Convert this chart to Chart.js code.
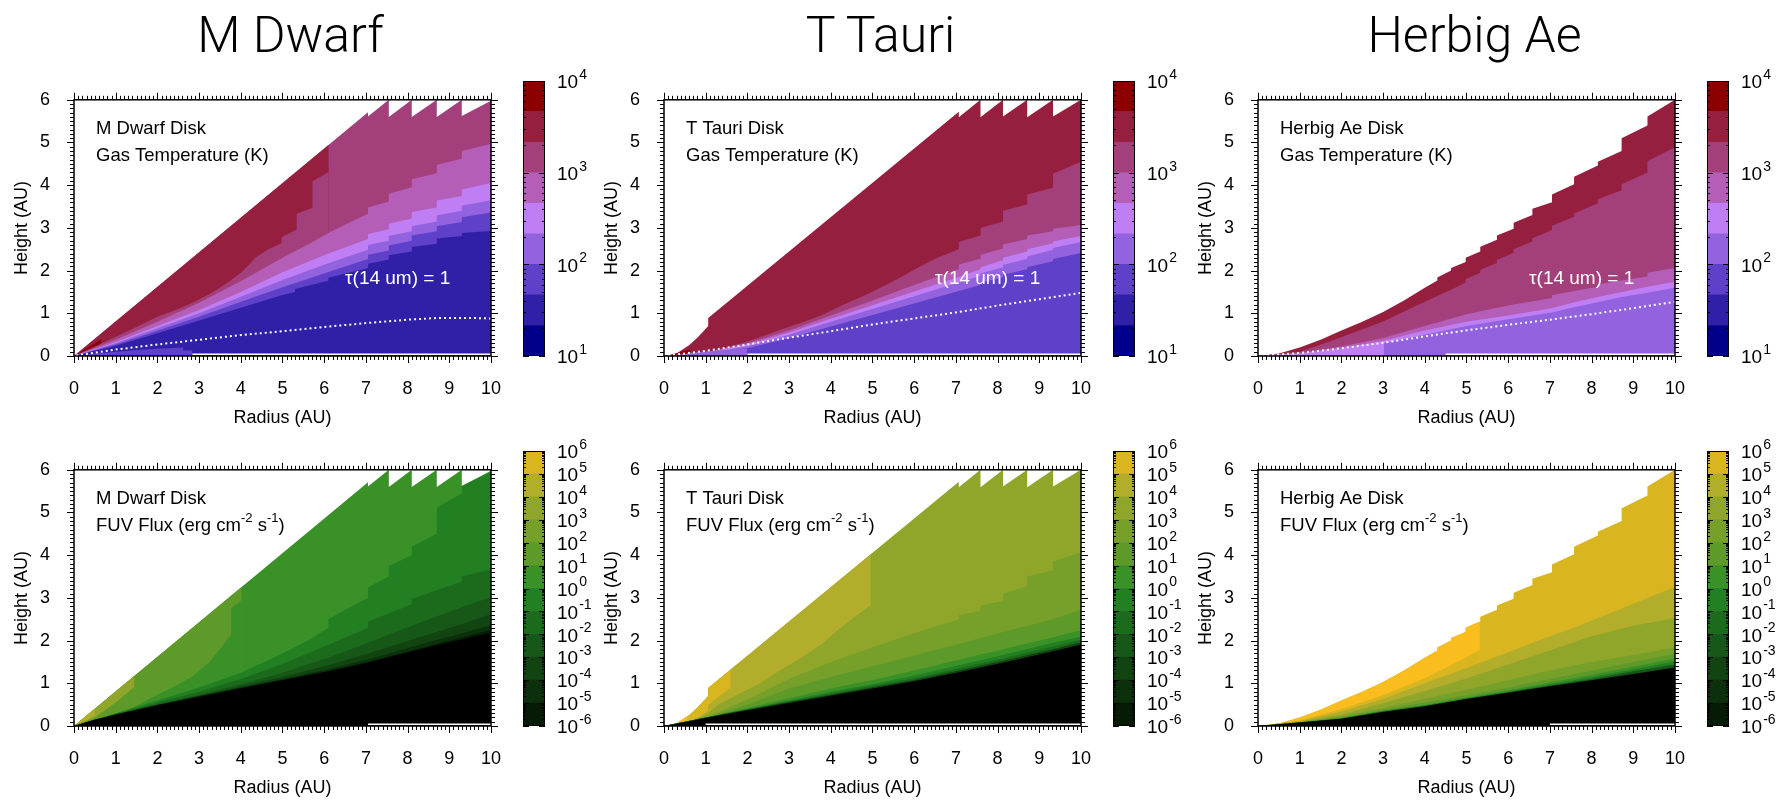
<!DOCTYPE html>
<html>
<head>
<meta charset="utf-8">
<script src="https://cdn.jsdelivr.net/npm/chart.js@4.4.1/dist/chart.umd.min.js"></script>
<style>
  body { margin: 0; background: #fff; }
  #page { position: relative; width: 1776px; height: 801px; overflow: hidden; background: #fff; }
  .head { position: absolute; top: 10px; width: 433px; text-align: center; font-family: Roboto, "Liberation Sans", sans-serif; font-weight: 300; font-size: 50px; line-height: 50px; color: #000; }
  canvas { position: absolute; }
</style>
</head>
<body>
<div id="page">
  <div class="head" style="left:74px">M Dwarf</div>
  <div class="head" style="left:664px">T Tauri</div>
  <div class="head" style="left:1258px">Herbig Ae</div>

  <canvas id="p1" width="523" height="366" style="left:0px;top:65px"></canvas>
  <canvas id="p2" width="523" height="366" style="left:590px;top:65px"></canvas>
  <canvas id="p3" width="523" height="366" style="left:1184px;top:65px"></canvas>
  <canvas id="p4" width="523" height="366" style="left:0px;top:435px"></canvas>
  <canvas id="p5" width="523" height="366" style="left:590px;top:435px"></canvas>
  <canvas id="p6" width="523" height="366" style="left:1184px;top:435px"></canvas>

  <canvas id="c1" width="82" height="311" style="left:521px;top:65px"></canvas>
  <canvas id="c2" width="82" height="311" style="left:1111px;top:65px"></canvas>
  <canvas id="c3" width="82" height="311" style="left:1705px;top:65px"></canvas>
  <canvas id="c4" width="82" height="311" style="left:521px;top:435px"></canvas>
  <canvas id="c5" width="82" height="311" style="left:1111px;top:435px"></canvas>
  <canvas id="c6" width="82" height="311" style="left:1705px;top:435px"></canvas>
</div>

<script>
// colour scales (colorbar edges, bottom to top)
const tempLevels = [10, 21.5, 46.4, 100, 215, 464, 1000, 2150, 4640, 10000];
const tempColors = ['#00008b', '#3020a8', '#5f40c8', '#9262df', '#bf7ef4', '#b45eb8', '#a3407b', '#961f40', '#8b0000'];
const tempTickVals = [10, 100, 1000, 10000];
const tempTickExps = ['1', '2', '3', '4'];

const fuvLevels = [1e-6, 1e-5, 1e-4, 1e-3, 1e-2, 1e-1, 1, 10, 100, 1e3, 1e4, 1e5, 1e6];
const fuvColors = ['#061b06', '#0b300b', '#114411', '#175717', '#1c6b1c', '#228022', '#3a9128', '#5e9a29', '#76a02a', '#90a62a', '#b2ae2b', '#d9b520'];
const fuvAbove = '#fabd1e';
const fuvTickVals = fuvLevels;
const fuvTickExps = ['-6', '-5', '-4', '-3', '-2', '-1', '0', '1', '2', '3', '4', '5', '6'];

const tauLabelPos = [6.5, 1.8];

// ---- M Dwarf disk: [radius, height] in AU ----
const mdSurface = [[0,0],[7.05,5.71],[7.05,5.61],[7.55,6.0],[7.55,5.6],[8.1,6.0],[8.1,5.6],[8.7,6.0],[8.7,5.6],[9.3,6.0],[9.3,5.62],[10,5.98]];
const mdTempRedEdge = 6.11;
const mdTempHot = [[0.05,0.03],[0.66,0.4],[0.66,0.28]];
const mdTempB23 = [[0,0],[0.5,0.22],[1,0.45],[1.5,0.68],[2,0.92],[2.5,1.1],[2.9,1.27],[3.25,1.45],[3.5,1.6],[3.77,1.78],[4.04,1.98],[4.35,2.3],[4.66,2.5],[4.98,2.64],[4.98,2.78],[5.34,2.96],[5.34,3.33],[5.72,3.47],[5.72,4.09],[6.11,4.31]];
const mdTempB34 = [[0,0],[1,0.38],[2,0.8],[3,1.25],[4,1.75],[5,2.3],[5.7,2.66],[6.1,2.88],[6.55,3.1],[7.05,3.33],[7.05,3.48],[7.55,3.62],[7.55,3.8],[8.1,3.95],[8.1,4.14],[8.7,4.28],[8.7,4.48],[9.3,4.62],[9.3,4.8],[10,4.97]];
const mdTempB45 = [[0,0],[1,0.33],[2,0.7],[3,1.08],[4,1.5],[5,1.96],[6.1,2.4],[6.55,2.56],[7.05,2.74],[7.05,2.86],[7.55,2.97],[7.55,3.1],[8.1,3.22],[8.1,3.37],[8.7,3.48],[8.7,3.64],[9.3,3.75],[9.3,3.9],[10,4.05]];
const mdTempB56 = [[0,0],[1,0.3],[2,0.65],[3,1.0],[4,1.39],[5,1.78],[6.1,2.17],[7.05,2.49],[7.05,2.6],[7.55,2.7],[7.55,2.81],[8.1,2.92],[8.1,3.04],[8.7,3.15],[8.7,3.29],[9.3,3.4],[9.3,3.52],[10,3.65]];
const mdTempB67 = [[0,0],[1,0.27],[2,0.59],[3,0.92],[4,1.27],[5,1.61],[6.1,1.97],[7.05,2.27],[7.05,2.37],[7.55,2.47],[7.55,2.59],[8.1,2.7],[8.1,2.82],[8.7,2.92],[8.7,3.04],[9.3,3.14],[9.3,3.25],[10,3.36]];
const mdTempB78 = [[0,0],[1,0.24],[2,0.53],[3,0.83],[4,1.13],[5,1.43],[5.3,1.5],[5.3,1.57],[6.1,1.76],[6.1,1.83],[7.05,2.06],[7.05,2.16],[7.55,2.26],[7.55,2.36],[8.1,2.45],[8.1,2.55],[8.7,2.63],[8.7,2.75],[9.3,2.81],[9.3,2.88],[10,2.93]];
const mdTempMid = [[0.1,0],[0.5,0.06],[1,0.1],[1.5,0.14],[2,0.17],[2.62,0.2],[2.62,0.13],[2.84,0.13],[2.84,0]];
const mdTau = [[0.05,0.01],[0.5,0.08],[1,0.15],[2,0.27],[3,0.38],[4,0.49],[5,0.58],[6,0.68],[7,0.77],[8,0.85],[8.7,0.89],[9.5,0.89],[10,0.88]];
const mdFloor = [[2.84,0.04],[10,0.04]];

const mdFuvWedgeEdge = 4.02, mdFuvSliverEdge = 1.45, mdFuvTipEdge = 0.5;
const mdFuvTipLow = [[0,0],[0.25,0.1],[0.5,0.25]];
const mdFuvSliverLow = [[0,0],[0.5,0.2],[1,0.55],[1.45,0.92]];
const mdFuvB21 = [[0,0],[0.5,0.1],[0.95,0.22],[1.45,0.45],[2,0.73],[2.45,0.95],[2.84,1.16],[3.25,1.5],[3.5,1.8],[3.77,2.15],[3.77,2.76],[4.02,2.95]];
const mdFuvB10 = [[0,0],[1,0.3],[2,0.6],[3,0.9],[4,1.25],[5,1.7],[5.7,2.05],[6.1,2.3],[6.1,2.5],[6.55,2.75],[7.05,3.0],[7.05,3.25],[7.55,3.5],[7.55,3.75],[8.1,4.0],[8.1,4.2],[8.7,4.5],[8.7,5.11],[9.3,5.45],[9.3,5.62],[10,5.95]];
const mdFuvB0m1 = [[0,0],[1,0.28],[2,0.55],[3,0.8],[4,1.1],[5,1.45],[6.1,1.9],[7.05,2.3],[7.05,2.45],[8.1,2.85],[8.1,2.98],[9.3,3.38],[9.3,3.5],[10,3.67]];
const mdFuvBm1m2 = [[0,0],[1,0.27],[2,0.51],[3,0.73],[4,0.98],[5,1.25],[6.1,1.6],[7.05,1.95],[8.1,2.35],[9.3,2.78],[10,3.02]];
const mdFuvBm2m3 = [[0,0],[1,0.27],[2,0.5],[3,0.71],[4,0.93],[5,1.15],[6.1,1.42],[7.05,1.7],[8.1,2.02],[9.3,2.38],[10,2.62]];
const mdFuvBm3m4 = [[0,0],[1,0.27],[2,0.49],[3,0.7],[4,0.9],[5,1.1],[6.1,1.33],[7.05,1.56],[8.1,1.85],[9.3,2.17],[10,2.36]];
const mdFuvBm4m5 = [[0,0],[1,0.27],[2,0.49],[3,0.69],[4,0.89],[5,1.08],[6.1,1.29],[7.05,1.5],[8.1,1.76],[9.3,2.07],[10,2.25]];
const mdFuvBlack = [[0,0],[0.5,0.15],[1,0.26],[2,0.48],[3,0.68],[4,0.88],[5,1.07],[6,1.26],[7,1.47],[8,1.72],[9,1.96],[10,2.18]];
const mdFuvFloor = [[7.05,0.04],[10,0.04]];

// ---- T Tauri disk ----
const ttSurface = [[0.05,0],[0.3,0.06],[0.6,0.25],[0.8,0.43],[1.0,0.64],[1.06,0.7],[1.06,0.89],[7.07,5.72],[7.07,5.59],[7.59,6.0],[7.59,5.59],[8.13,6.0],[8.13,5.61],[8.71,6.0],[8.71,5.59],[9.33,6.0],[9.33,5.61],[10,6.0]];
const ttTempHot = [[0.1,0.01],[0.64,0.16],[0.64,0.08]];
const ttTempB23 = [[0,0],[1,0.09],[1.5,0.2],[2,0.34],[2.45,0.49],[2.84,0.63],[3.3,0.78],[3.76,0.95],[4.3,1.2],[4.84,1.43],[5.3,1.65],[5.72,1.87],[6.13,2.09],[6.55,2.3],[7.07,2.5],[7.07,2.67],[7.59,2.82],[7.59,3.0],[8.13,3.15],[8.13,3.4],[8.71,3.55],[8.71,3.78],[9.33,3.94],[9.33,4.27],[10,4.55]];
const ttTempB34 = [[0,0],[1,0.08],[2,0.3],[3,0.6],[4,0.95],[5,1.3],[6,1.66],[7.07,2.04],[7.07,2.14],[7.59,2.28],[7.59,2.37],[8.13,2.52],[8.13,2.61],[8.71,2.74],[8.71,2.82],[9.33,2.92],[9.33,2.98],[10,3.07]];
const ttTempB45 = [[0,0],[1,0.07],[2,0.27],[3,0.55],[4,0.87],[5,1.19],[6,1.51],[7.07,1.85],[7.59,2.03],[7.59,2.08],[8.13,2.24],[8.13,2.3],[8.71,2.45],[8.71,2.5],[9.33,2.64],[9.33,2.68],[10,2.81]];
const ttTempB56 = [[0,0],[1,0.06],[2,0.23],[3,0.5],[4,0.8],[5,1.1],[6,1.4],[7.07,1.72],[7.59,1.88],[7.59,1.93],[8.13,2.08],[8.13,2.13],[8.71,2.28],[8.71,2.33],[9.33,2.49],[9.33,2.53],[10,2.67]];
const ttTempB67 = [[0,0],[1,0.05],[2,0.18],[3,0.42],[4,0.69],[5,0.96],[6,1.23],[7.07,1.52],[7.59,1.66],[7.59,1.71],[8.13,1.85],[8.13,1.9],[8.71,2.03],[8.71,2.08],[9.33,2.22],[9.33,2.27],[10,2.41]];
const ttTempMid = [[0.55,0],[0.55,0.07],[1.06,0.11],[1.5,0.14],[1.99,0.17],[1.99,0]];
const ttTau = [[0.1,0.01],[1,0.12],[2,0.27],[3,0.43],[4,0.58],[5,0.74],[6,0.88],[7,1.02],[8,1.18],[9,1.33],[10,1.48]];
const ttFloor = [[2,0.04],[10,0.04]];

const ttFuvWedgeEdge = 4.96, ttFuvGoldEdge = 1.6, ttFuvTipEdge = 0.56;
const ttFuvGoldLow = [[0.05,0],[0.56,0.05],[1.06,0.35],[1.06,0.5],[1.6,0.9]];
const ttFuvWedgeLow = [[0,0],[0.5,0.04],[1.06,0.3],[1.3,0.5],[1.76,0.74],[2.3,1.0],[2.76,1.29],[3.26,1.58],[3.77,1.91],[4.07,2.17],[4.63,2.6],[4.96,2.82]];
const ttFuvB43 = [[0,0],[1,0.2],[2,0.62],[3,1.1],[4,1.5],[5,1.84],[6,2.17],[7.07,2.5],[7.07,2.6],[7.59,2.7],[7.59,2.82],[8.13,2.93],[8.13,3.1],[8.71,3.28],[8.71,3.5],[9.33,3.65],[9.33,3.85],[10,4.07]];
const ttFuvB32 = [[0,0],[1,0.18],[2,0.5],[3,0.88],[4,1.15],[5,1.4],[6,1.65],[7.07,1.92],[8.13,2.2],[9.33,2.5],[10,2.72]];
const ttFuvB21 = [[0,0],[1,0.2],[2,0.42],[3,0.65],[4,0.88],[5,1.08],[6,1.3],[7.07,1.55],[8.13,1.8],[9.33,2.08],[10,2.24]];
const ttFuvB10 = [[0,0],[1,0.2],[2,0.4],[3,0.6],[4,0.8],[5,0.98],[6,1.18],[7.07,1.42],[8.13,1.66],[9.33,1.95],[10,2.09]];
const ttFuvB0m1 = [[0,0],[1,0.2],[2,0.39],[3,0.58],[4,0.76],[5,0.94],[6,1.12],[7.07,1.35],[8.13,1.58],[9.33,1.86],[10,2.02]];
const ttFuvBm2 = [[0,0],[1,0.2],[2,0.38],[3,0.56],[4,0.73],[5,0.91],[6,1.08],[7.07,1.3],[8.13,1.53],[9.33,1.8],[10,1.96]];
const ttFuvBlack = [[0,0],[0.5,0.09],[1,0.19],[2,0.37],[3,0.54],[4,0.71],[5,0.88],[6,1.05],[7.07,1.26],[8.13,1.48],[9.33,1.75],[10,1.91]];
const ttFuvFloor = [[1,0.04],[10,0.04]];

// ---- Herbig Ae disk ----
const haSurface = [[0,0],[0.5,0.06],[1,0.2],[1.5,0.38],[2,0.6],[2.5,0.8],[3,1.03],[3.5,1.3],[4,1.6],[4.3,1.77],[4.3,1.84],[4.63,2.0],[4.63,2.06],[4.98,2.2],[4.98,2.3],[5.33,2.45],[5.33,2.56],[5.73,2.72],[5.73,2.82],[6.13,2.98],[6.13,3.12],[6.58,3.3],[6.58,3.45],[7.05,3.6],[7.05,3.78],[7.58,4.02],[7.58,4.2],[8.15,4.46],[8.15,4.55],[8.72,4.8],[8.72,5.1],[9.34,5.4],[9.34,5.61],[10,6.0]];
const haTempB23 = [[0,0],[1,0.1],[1.72,0.34],[2.33,0.56],[3,0.81],[3.48,1.03],[4,1.27],[4.63,1.55],[4.98,1.72],[4.98,1.8],[5.33,1.95],[5.33,2.02],[5.73,2.18],[5.73,2.25],[6.13,2.42],[6.13,2.5],[6.58,2.68],[6.58,2.76],[7.05,2.95],[7.05,3.05],[7.58,3.26],[7.58,3.34],[8.15,3.58],[8.15,3.67],[8.72,3.88],[8.72,4.02],[9.34,4.3],[9.34,4.56],[10,4.89]];
const haTempB34 = [[0,0],[1,0.07],[2,0.22],[3,0.42],[4,0.7],[5,0.98],[6,1.18],[7.05,1.36],[7.05,1.42],[7.58,1.52],[8.15,1.62],[8.15,1.68],[8.72,1.77],[9.34,1.86],[9.34,1.95],[10,2.06]];
const haTempB45 = [[0,0],[1,0.06],[2,0.18],[3,0.36],[4,0.6],[5,0.8],[6,0.95],[7.05,1.12],[7.58,1.26],[8.15,1.38],[8.72,1.5],[9.34,1.62],[10,1.74]];
const haTempB56 = [[3.02,0],[3.02,0.3],[4,0.5],[5,0.7],[6,0.86],[7.05,1.02],[7.58,1.14],[8.15,1.26],[8.72,1.38],[9.34,1.48],[10,1.6]];
const haTau = [[0.1,0.01],[1,0.07],[2,0.18],[3,0.31],[4,0.46],[5,0.6],[6,0.73],[7,0.85],[8,0.98],[9,1.12],[10,1.27]];
const haFloor = [[4.5,0.04],[10,0.04]];

const haFuvBrightEdge = 5.32;
const haFuvBright = [[0,0],[1,0.13],[2,0.4],[3,0.72],[4,1.12],[4.63,1.42],[5.32,1.78]];
const haFuvB65 = [[0,0],[1,0.12],[2,0.34],[3,0.64],[4,1.0],[5,1.36],[6,1.73],[7,2.1],[7.58,2.3],[8.15,2.53],[8.72,2.75],[9.34,3.0],[10,3.26]];
const haFuvB54 = [[0,0],[1,0.1],[2,0.27],[3,0.53],[4,0.82],[5,1.11],[6,1.44],[7,1.77],[8,2.1],[9,2.35],[10,2.53]];
const haFuvB43 = [[0,0],[1,0.09],[2,0.23],[3,0.42],[4,0.64],[5,0.85],[6,1.07],[7,1.3],[8,1.5],[9,1.66],[10,1.84]];
const haFuvB32 = [[0,0],[1,0.085],[2,0.2],[3,0.38],[4,0.55],[5,0.72],[6,0.9],[7,1.1],[8,1.3],[9,1.5],[10,1.69]];
const haFuvB21 = [[0,0],[1,0.08],[2,0.19],[3,0.36],[4,0.5],[5,0.67],[6,0.84],[7,1.02],[8,1.2],[9,1.39],[10,1.58]];
const haFuvB10 = [[0,0],[1,0.08],[2,0.18],[3,0.35],[4,0.48],[5,0.65],[6,0.81],[7,0.98],[8,1.15],[9,1.33],[10,1.51]];
const haFuvBm1 = [[0,0],[1,0.08],[2,0.17],[3,0.34],[4,0.47],[5,0.64],[6,0.79],[7,0.95],[8,1.1],[9,1.28],[10,1.44]];
const haFuvBlack = [[0,0],[1,0.08],[2,0.17],[3,0.33],[4,0.46],[5,0.63],[6,0.78],[7,0.93],[8,1.07],[9,1.22],[10,1.37]];
const haFuvFloor = [[7,0.04],[10,0.04]];

Chart.defaults.font.family = '"Liberation Sans", Arial, sans-serif';
Chart.defaults.color = '#000';

// cut a boundary at a given radius (keeps the part inside)
function clipTo(pts, xmax) {
  const out = [];
  for (let i = 0; i < pts.length; i++) {
    const [x, y] = pts[i];
    if (x <= xmax) { out.push([x, y]); continue; }
    const [x0, y0] = pts[i - 1];
    out.push([xmax, y0 + (y - y0) * (xmax - x0) / (x - x0)]);
    break;
  }
  return out;
}

const toXY = pts => pts.map(p => ({ x: p[0], y: p[1] }));

// frame with outward minor/major ticks
const frameTicks = {
  id: 'frameTicks',
  afterDraw(chart) {
    const { ctx, chartArea: a, scales: { x, y } } = chart;
    ctx.save();
    ctx.strokeStyle = '#000';
    ctx.lineWidth = 1;
    ctx.beginPath();
    for (let i = 0; i <= 100; i++) {
      const px = Math.round(x.getPixelForValue(i / 10)) + 0.5;
      const len = i % 10 === 0 ? 7 : 4;
      ctx.moveTo(px, a.bottom); ctx.lineTo(px, a.bottom + len);
      ctx.moveTo(px, a.top); ctx.lineTo(px, a.top - len);
    }
    for (let j = 0; j <= 60; j++) {
      const py = Math.round(y.getPixelForValue(j / 10)) + 0.5;
      const len = j % 10 === 0 ? 7 : 4;
      ctx.moveTo(a.left, py); ctx.lineTo(a.left - len, py);
      ctx.moveTo(a.right, py); ctx.lineTo(a.right + len, py);
    }
    ctx.stroke();
    ctx.lineWidth = 1.5;
    ctx.strokeRect(a.left, a.top, a.right - a.left, a.bottom - a.top);
    ctx.restore();
  }
};

// panel caption + tau label
const panelText = {
  id: 'panelText',
  afterDraw(chart, args, opts) {
    const { ctx, chartArea: a, scales: { x, y } } = chart;
    ctx.save();
    ctx.textBaseline = 'middle';
    ctx.fillStyle = '#000';
    opts.lines.forEach((segs, i) => {
      let px = a.left + 22;
      const py = a.top + 29 + i * 27;
      segs.forEach(([t, sup]) => {
        ctx.font = sup ? '13px "Liberation Sans"' : '18.5px "Liberation Sans"';
        ctx.fillText(t, px, sup ? py - 7 : py);
        px += ctx.measureText(t).width;
      });
    });
    if (opts.tau) {
      ctx.fillStyle = '#fff';
      ctx.font = '19px "Liberation Sans"';
      ctx.fillText('\u03c4(14 um) = 1', x.getPixelForValue(tauLabelPos[0]), y.getPixelForValue(tauLabelPos[1]));
    }
    ctx.restore();
  }
};

function makePanel(id, layers, lines, caption, tau) {
  const datasets = layers.map((l, i) => ({
    data: toXY(l[0]),
    backgroundColor: l[1],
    borderWidth: 0,
    pointRadius: 0,
    fill: 'origin',
    order: -i
  }));
  lines.forEach(l => datasets.push({
    data: toXY(l[0]),
    borderColor: '#fff',
    borderWidth: l[1],
    borderDash: l[2],
    pointRadius: 0,
    fill: false,
    order: -100
  }));
  new Chart(document.getElementById(id), {
    type: 'line',
    data: { datasets },
    options: {
      responsive: false,
      animation: false,
      events: [],
      layout: { padding: { top: 16, right: 16, left: 0, bottom: 0 }, autoPadding: false },
      plugins: { legend: { display: false }, tooltip: { enabled: false }, panelText: { lines: caption, tau } },
      scales: {
        x: {
          type: 'linear', min: 0, max: 10,
          ticks: { stepSize: 1, font: { size: 18 }, color: '#000', padding: 22, maxRotation: 0, autoSkip: false },
          grid: { display: false, drawTicks: false },
          border: { display: false },
          title: { display: true, text: 'Radius (AU)', font: { size: 18 }, color: '#000', padding: { top: 0, bottom: 2 } },
          afterFit: s => { s.height = 75; }
        },
        y: {
          type: 'linear', min: 0, max: 6,
          ticks: { stepSize: 1, font: { size: 18 }, color: '#000', padding: 24 },
          grid: { display: false, drawTicks: false },
          border: { display: false },
          title: { display: true, text: 'Height (AU)', font: { size: 18 }, color: '#000', padding: { top: 11, bottom: 0 } },
          afterFit: s => { s.width = 74; }
        }
      }
    },
    plugins: [frameTicks, panelText]
  });
}

// colorbar decorations: frame, inward log ticks, 10^n labels
const cbarDeco = {
  id: 'cbarDeco',
  afterDraw(chart, args, o) {
    const { ctx, chartArea: a, scales: { y } } = chart;
    ctx.save();
    ctx.strokeStyle = '#000';
    ctx.lineWidth = 1;
    ctx.beginPath();
    const k0 = Math.round(Math.log10(y.min)), k1 = Math.round(Math.log10(y.max));
    for (let k = k0; k < k1; k++) {
      for (let m = 1; m < 10; m++) {
        const py = Math.round(y.getPixelForValue(m * Math.pow(10, k))) + 0.5;
        const len = m === 1 ? 6 : 3;
        ctx.moveTo(a.left, py); ctx.lineTo(a.left + len, py);
        ctx.moveTo(a.right, py); ctx.lineTo(a.right - len, py);
      }
    }
    ctx.stroke();
    ctx.strokeRect(a.left + 0.5, a.top + 0.5, a.right - a.left - 1, a.bottom - a.top - 1);
    ctx.fillStyle = '#000';
    ctx.textBaseline = 'middle';
    o.vals.forEach((v, i) => {
      const py = y.getPixelForValue(v) + 2;
      const px = a.right + 12;
      ctx.font = '19px "Liberation Sans"';
      ctx.fillText('10', px, py);
      const w = ctx.measureText('10').width;
      ctx.font = '14px "Liberation Sans"';
      ctx.fillText(o.exps[i], px + w + 1, py - 8);
    });
    ctx.restore();
  }
};

function makeCbar(id, levels, colors, vals, exps) {
  new Chart(document.getElementById(id), {
    type: 'bar',
    data: {
      labels: [''],
      datasets: colors.map((c, i) => ({
        data: [[levels[i], levels[i + 1]]],
        backgroundColor: c,
        borderWidth: 0,
        barPercentage: 1,
        categoryPercentage: 1,
        grouped: false
      }))
    },
    options: {
      responsive: false,
      animation: false,
      events: [],
      layout: { padding: { top: 16, bottom: 20, left: 2, right: 0 }, autoPadding: false },
      plugins: { legend: { display: false }, tooltip: { enabled: false }, cbarDeco: { vals, exps } },
      scales: {
        x: { display: false },
        y: {
          type: 'logarithmic', position: 'right',
          min: levels[0], max: levels[levels.length - 1],
          ticks: { display: false },
          grid: { display: false, drawTicks: false },
          border: { display: false },
          afterFit: s => { s.width = 58; }
        }
      }
    },
    plugins: [cbarDeco]
  });
}

const T = tempColors, F = fuvColors;
const tempCap = name => [[[name + ' Disk', 0]], [['Gas Temperature (K)', 0]]];
const fuvCap = name => [[[name + ' Disk', 0]], [['FUV Flux (erg cm', 0], ['-2', 1], [' s', 0], ['-1', 1], [')', 0]]];
const dots = [2, 3];

makePanel('p1', [
  [mdSurface, T[6]],
  [clipTo(mdSurface, mdTempRedEdge), T[7]],
  [mdTempHot, T[8]],
  [mdTempB23, T[6]],
  [mdTempB34, T[5]],
  [mdTempB45, T[4]],
  [mdTempB56, T[3]],
  [mdTempB67, T[2]],
  [mdTempB78, T[1]],
  [mdTempMid, T[2]]
], [[mdFloor, 1.5, []], [mdTau, 2, dots]], tempCap('M Dwarf'), true);

makePanel('p2', [
  [ttSurface, T[7]],
  [ttTempHot, T[8]],
  [ttTempB23, T[6]],
  [ttTempB34, T[5]],
  [ttTempB45, T[4]],
  [ttTempB56, T[3]],
  [ttTempB67, T[2]],
  [ttTempMid, T[3]]
], [[ttFloor, 1.5, []], [ttTau, 2, dots]], tempCap('T Tauri'), true);

makePanel('p3', [
  [haSurface, T[7]],
  [haTempB23, T[6]],
  [haTempB34, T[5]],
  [haTempB45, T[4]],
  [haTempB56, T[3]]
], [[haFloor, 1.5, []], [haTau, 2, dots]], tempCap('Herbig Ae'), true);

makePanel('p4', [
  [mdSurface, F[6]],
  [clipTo(mdSurface, mdFuvWedgeEdge), F[7]],
  [clipTo(mdSurface, mdFuvSliverEdge), F[9]],
  [clipTo(mdSurface, mdFuvTipEdge), F[10]],
  [mdFuvTipLow, F[9]],
  [mdFuvSliverLow, F[7]],
  [mdFuvB21, F[6]],
  [mdFuvB10, F[5]],
  [mdFuvB0m1, F[4]],
  [mdFuvBm1m2, F[3]],
  [mdFuvBm2m3, F[2]],
  [mdFuvBm3m4, F[1]],
  [mdFuvBm4m5, F[0]],
  [mdFuvBlack, '#000']
], [[mdFuvFloor, 1.5, []]], fuvCap('M Dwarf'), false);

makePanel('p5', [
  [ttSurface, F[9]],
  [clipTo(ttSurface, ttFuvWedgeEdge), F[10]],
  [clipTo(ttSurface, ttFuvGoldEdge), F[11]],
  [clipTo(ttSurface, ttFuvTipEdge), fuvAbove],
  [ttFuvGoldLow, F[10]],
  [ttFuvWedgeLow, F[9]],
  [ttFuvB43, F[8]],
  [ttFuvB32, F[7]],
  [ttFuvB21, F[6]],
  [ttFuvB10, F[5]],
  [ttFuvB0m1, F[4]],
  [ttFuvBm2, F[2]],
  [ttFuvBlack, '#000']
], [[ttFuvFloor, 1.5, []]], fuvCap('T Tauri'), false);

makePanel('p6', [
  [haSurface, F[11]],
  [clipTo(haSurface, haFuvBrightEdge), fuvAbove],
  [haFuvBright, F[11]],
  [haFuvB65, F[10]],
  [haFuvB54, F[9]],
  [haFuvB43, F[8]],
  [haFuvB32, F[7]],
  [haFuvB21, F[6]],
  [haFuvB10, F[5]],
  [haFuvBm1, F[3]],
  [haFuvBlack, '#000']
], [[haFuvFloor, 1.5, []]], fuvCap('Herbig Ae'), false);

makeCbar('c1', tempLevels, tempColors, tempTickVals, tempTickExps);
makeCbar('c2', tempLevels, tempColors, tempTickVals, tempTickExps);
makeCbar('c3', tempLevels, tempColors, tempTickVals, tempTickExps);
makeCbar('c4', fuvLevels, fuvColors, fuvTickVals, fuvTickExps);
makeCbar('c5', fuvLevels, fuvColors, fuvTickVals, fuvTickExps);
makeCbar('c6', fuvLevels, fuvColors, fuvTickVals, fuvTickExps);
</script>
</body>
</html>
